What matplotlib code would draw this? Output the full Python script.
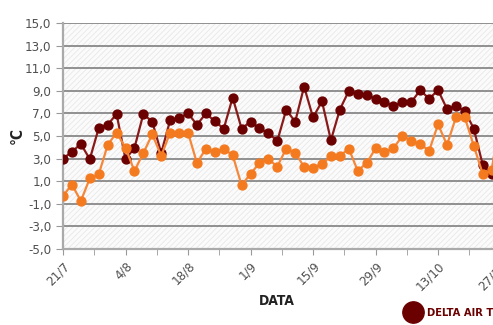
import numpy as np
import pandas as pd
import matplotlib
matplotlib.use("Agg")
import matplotlib.pyplot as plt
from matplotlib.patches import Rectangle

plt.rcParams['font.family'] = ['DejaVu Sans']
plt.rcParams['font.stretch'] = 'condensed'
plt.rcParams['hatch.linewidth'] = 0.6

# one point every two days, starting 21/7
dates = pd.date_range('2023-07-21', periods=50, freq='2D')
t_max = [3.0, 3.6, 4.3, 2.95, 5.7, 6.0, 6.95, 2.95, 3.95, 6.95,
         6.25, 3.5, 6.4, 6.6, 7.0, 6.0, 7.0, 6.3, 5.65, 8.4,
         5.65, 6.28, 5.67, 5.25, 4.57, 7.33, 6.26, 9.37, 6.64, 8.07,
         4.63, 7.33, 8.99, 8.7, 8.6, 8.3, 8.05, 7.65, 8.0, 8.0,
         9.05, 8.3, 9.05, 7.4, 7.66, 7.2, 5.65, 2.45, 1.6, 6.5]
t_min = [-0.3, 0.7, -0.75, 1.25, 1.6, 4.2, 5.3, 3.95, 1.9, 3.5,
         5.15, 3.25, 5.3, 5.3, 5.3, 2.6, 3.87, 3.6, 3.87, 3.3,
         0.65, 1.65, 2.6, 2.95, 2.3, 3.89, 3.53, 2.26, 2.2, 2.53,
         3.21, 3.21, 3.89, 1.92, 2.6, 3.91, 3.57, 3.91, 5.0, 4.6,
         4.28, 3.7, 6.02, 4.22, 6.64, 6.64, 4.13, 1.66, 1.95, 7.0]
tick_labels = ['21/7', '4/8', '18/8', '1/9', '15/9', '29/9', '13/10', '27/10']

dark = '#6b0000'
orange = '#f47a20'

fig = plt.figure(figsize=(4.93, 3.25), dpi=100)
ax = fig.add_axes([63 / 493, 76 / 325, 446.5 / 493, 226 / 325])

start = dates[0]
x_days = (dates - start).days

ax.set_facecolor('#fbfbfb')
ax.add_patch(Rectangle((0, 0), 1, 1, transform=ax.transAxes, facecolor='none',
                       edgecolor='#e8e8e8', hatch='//////', linewidth=0, zorder=0))

ax.plot(x_days, t_max, color='#8a1a1a', lw=1.6, marker='o', ms=6.4,
        mfc=dark, mec=dark, label='DELTA AIR T° MAX', zorder=3)
ax.plot(x_days, t_min, color='#f5873a', lw=1.6, marker='o', ms=6.4,
        mfc=orange, mec=orange, label='DELTA AIR T° MIN', zorder=4)

ax.set_xlim(0, 100)
ax.set_ylim(-5, 15)
yt = np.arange(-5, 16, 2)
ax.set_yticks(yt)
ax.set_yticklabels([f'{v:.1f}'.replace('.', ',') for v in yt])
ax.yaxis.grid(True, color='#7f7f7f', lw=1.2)
ax.set_axisbelow(True)

ax.set_xticks(np.arange(0, 100, 7), minor=True)
ax.set_xticks(np.arange(0, 100, 14))
ax.set_xticklabels(tick_labels, rotation=45, ha='right', rotation_mode='anchor')
ax.tick_params(axis='x', which='both', length=4, color='#999999', direction='out')
ax.tick_params(axis='y', length=5, color='#999999', direction='out')
ax.tick_params(labelsize=9.5, labelcolor='#505050')

for s in ['top', 'right']:
    ax.spines[s].set_visible(False)
for s in ['left', 'bottom']:
    ax.spines[s].set_color('#aaaaaa')
    ax.spines[s].set_linewidth(1.6)

ax.set_ylabel('°C', fontsize=11, fontweight='bold', color='#222222')
ax.yaxis.set_label_coords(-0.085, 0.5)
ax.set_xlabel('DATA', fontsize=10, fontweight='bold', color='#222222')
ax.xaxis.set_label_coords((277 - 63) / 446.5, -0.2)

leg = fig.legend(loc='center left', bbox_to_anchor=(400 / 493, 12 / 325), ncol=2,
                 frameon=False, markerscale=2.4, handlelength=0.6,
                 columnspacing=2, handletextpad=0.9,
                 prop={'weight': 'bold', 'size': 8, 'stretch': 'condensed'})
for line in leg.get_lines():
    line.set_linestyle('none')
for text, c in zip(leg.get_texts(), [dark, orange]):
    text.set_color(c)

fig.savefig('out.png', dpi=100)
